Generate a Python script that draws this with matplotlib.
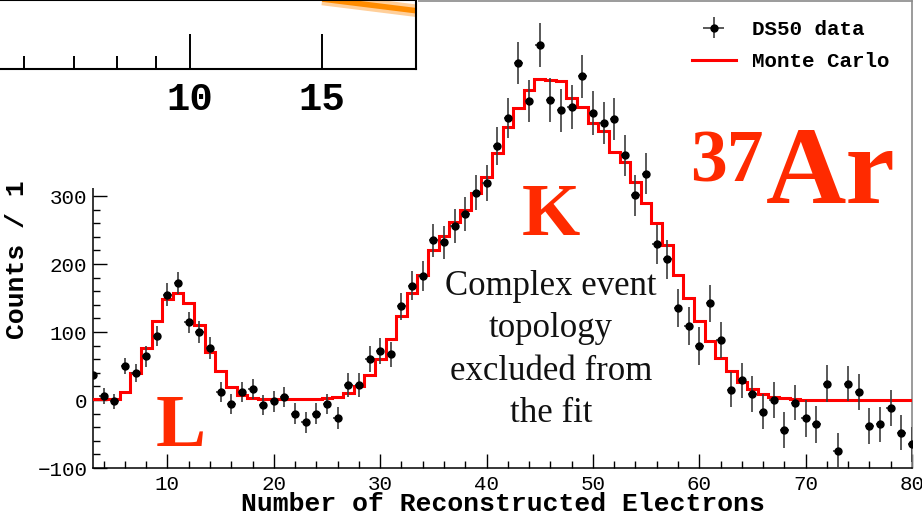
import matplotlib
matplotlib.use("Agg")
import matplotlib.pyplot as plt
import matplotlib.patches as patches
from matplotlib.ticker import MultipleLocator, FixedLocator, NullFormatter, FuncFormatter
import numpy as np

# reconstructed electrons (bin centres, width 1)
n_e = np.arange(3, 81)

# DS50 data, background subtracted
counts = [37, 6, -2, 50, 40, 64, 94, 155, 172, 114, 100, 76, 12, -6, 12, 16,
          -7, -2, 4, -20, -33, -20, -6, -27, 22, 22, 60, 72, 67, 138, 168, 183,
          235, 232, 256, 273, 305, 319, 374, 415, 496, 440, 522, 441, 426, 431,
          476, 422, 407, 413, 360, 301, 333, 229, 207, 135, 109, 80, 142, 88,
          15, 29, 9, -17, 0, -44, -4, -27, -36, 24, -75, 24, 12, -38, -36, -12,
          -48, -65]
errors = [12, 12, 11, 12, 13, 16, 15, 17, 16, 16, 16, 16, 15, 15, 15, 15,
          15, 15, 15, 15, 15, 15, 15, 16, 18, 18, 19, 19, 19, 20, 21, 22,
          24, 24, 25, 25, 26, 27, 28, 29, 31, 31, 32, 32, 32, 32, 32, 32,
          31, 31, 30, 30, 30, 29, 29, 28, 28, 28, 27, 26, 26, 26, 26, 26,
          26, 26, 26, 27, 27, 27, 26, 26, 26, 26, 26, 26, 26, 26]

# Monte Carlo prediction per bin
mc = [1, 1, 2, 12, 39, 77, 116, 149, 157, 142, 111, 71, 42, 19, 7, 3,
      1.5, 1, 1, 1, 1, 1, 2.5, 4, 10, 20, 37, 61, 90, 124, 158, 184,
      221, 241, 262, 280, 304, 328, 363, 401, 429, 456, 472, 471, 469, 444,
      431, 407, 395, 365, 350, 321, 290, 261, 228, 184, 150, 116, 87, 62,
      42, 27, 16, 9, 5, 2.5, 1, 0.5, 0.5, 0.5, 0.5, 0.5, 0.5, 0.5, 0.5, 0.5,
      0.5, 0.5]
mc_edges = np.arange(2.5, 81.5, 1.0)

# inset (log x) curve
inset_x = [15.0, 20.0]
inset_y = [1.014, 0.845]

W, H = 922, 519
mono = "Liberation Mono"
serif = "Liberation Serif"
red_txt = "#ff2a00"


def fx(px):
    return px / W


def fy(py):
    return 1 - py / H


fig = plt.figure(figsize=(W / 100, H / 100), dpi=100)

ax = fig.add_axes([fx(93), 51 / H, 819 / W, 467.5 / H])
ax.set_xlim(3, 80)
ax.set_ylim(-100, 587.5)

ax.stairs(mc, mc_edges, color="red", lw=2.2, zorder=3)
eb = ax.errorbar(n_e, counts, yerr=errors, xerr=0.4, fmt="o", color="black",
                 ms=5, ecolor="#3c3c3c", elinewidth=1.2, capsize=0, zorder=4)

ax.xaxis.set_major_locator(MultipleLocator(10))
ax.xaxis.set_minor_locator(MultipleLocator(2))
ax.yaxis.set_major_locator(MultipleLocator(100))
ax.yaxis.set_minor_locator(MultipleLocator(20))
ax.tick_params(which="both", direction="in", top=False, right=False, width=1,
               labelsize=15)
ax.tick_params(which="major", length=10)
ax.tick_params(which="minor", length=5)
ax.tick_params(axis="y", pad=4)
ax.tick_params(axis="x", pad=5)
for lab in ax.get_xticklabels() + ax.get_yticklabels():
    lab.set_family(mono)
for s in ["left", "bottom"]:
    ax.spines[s].set_linewidth(1.1)
for s in ["top", "right"]:
    ax.spines[s].set_color("#8a8a8a")
    ax.spines[s].set_linewidth(1.2)

fig.text(fx(17), fy(260), "Counts / 1", rotation=90, ha="center", va="center",
         family=mono, weight="bold", fontsize=19)
fig.text(fx(503), fy(511), "Number of Reconstructed Electrons", ha="center",
         va="baseline", family=mono, weight="bold", fontsize=19)

mc_handle = plt.Line2D([], [], color="red", lw=2.2)
ax.legend([eb, mc_handle], ["DS50 data", "Monte Carlo"], loc="upper left",
          bbox_to_anchor=(fx(692), fy(20)), bbox_transform=fig.transFigure,
          frameon=False, borderpad=0, borderaxespad=0, handlelength=2.1,
          handletextpad=0.8, labelspacing=0.62,
          prop={"family": mono, "weight": "bold", "size": 15})

# peak labels
fig.text(fx(551), fy(235), "K", ha="center", va="baseline", family=serif,
         weight="bold", fontsize=54, color=red_txt)
fig.text(fx(181), fy(446), "L", ha="center", va="baseline", family=serif,
         weight="bold", fontsize=54, color=red_txt)
fig.text(fx(766), fy(203), "Ar", ha="left", va="baseline", family=serif,
         weight="bold", fontsize=80, color=red_txt)
fig.text(fx(690), fy(182), "37", ha="left", va="baseline", family=serif,
         weight="bold", fontsize=53, color=red_txt)

note = ["Complex event", "topology", "excluded from", "the fit"]
for i, line in enumerate(note):
    fig.text(fx(551), fy(295 + 42.3 * i), line, ha="center", va="baseline",
             family=serif, fontsize=25, color="#111111")

# white pad behind the inset
fig.patches.append(patches.Rectangle((0, fy(188)), fx(418), 1 - fy(188),
                                     transform=fig.transFigure,
                                     facecolor="white", edgecolor="none",
                                     zorder=1))

ins = fig.add_axes([fx(-35.8), fy(69), 451.8 / W, 69 / H], zorder=2)
ins.set_xscale("log")
ins.set_xlim(5, 20)
ins.set_ylim(0, 1)
ins.plot(inset_x, inset_y, color="#ffcf9a", lw=9, solid_capstyle="butt")
ins.plot(inset_x, inset_y, color="#ff8c00", lw=4, solid_capstyle="butt")
ins.xaxis.set_major_locator(FixedLocator([10, 15]))
ins.xaxis.set_minor_locator(FixedLocator([5, 6, 7, 8, 9]))
ins.xaxis.set_major_formatter(FuncFormatter(lambda v, p: "%d" % v))
ins.xaxis.set_minor_formatter(NullFormatter())
ins.set_yticks([])
ins.tick_params(axis="x", which="both", direction="in", width=1.4, pad=9,
                labelsize=28)
ins.tick_params(axis="x", which="major", length=25)
ins.tick_params(axis="x", which="minor", length=9.5)
for lab in ins.get_xticklabels():
    lab.set_family(mono)
    lab.set_weight("bold")
for s in ins.spines.values():
    s.set_linewidth(1.5)

fig.savefig("out.png", dpi=100)
